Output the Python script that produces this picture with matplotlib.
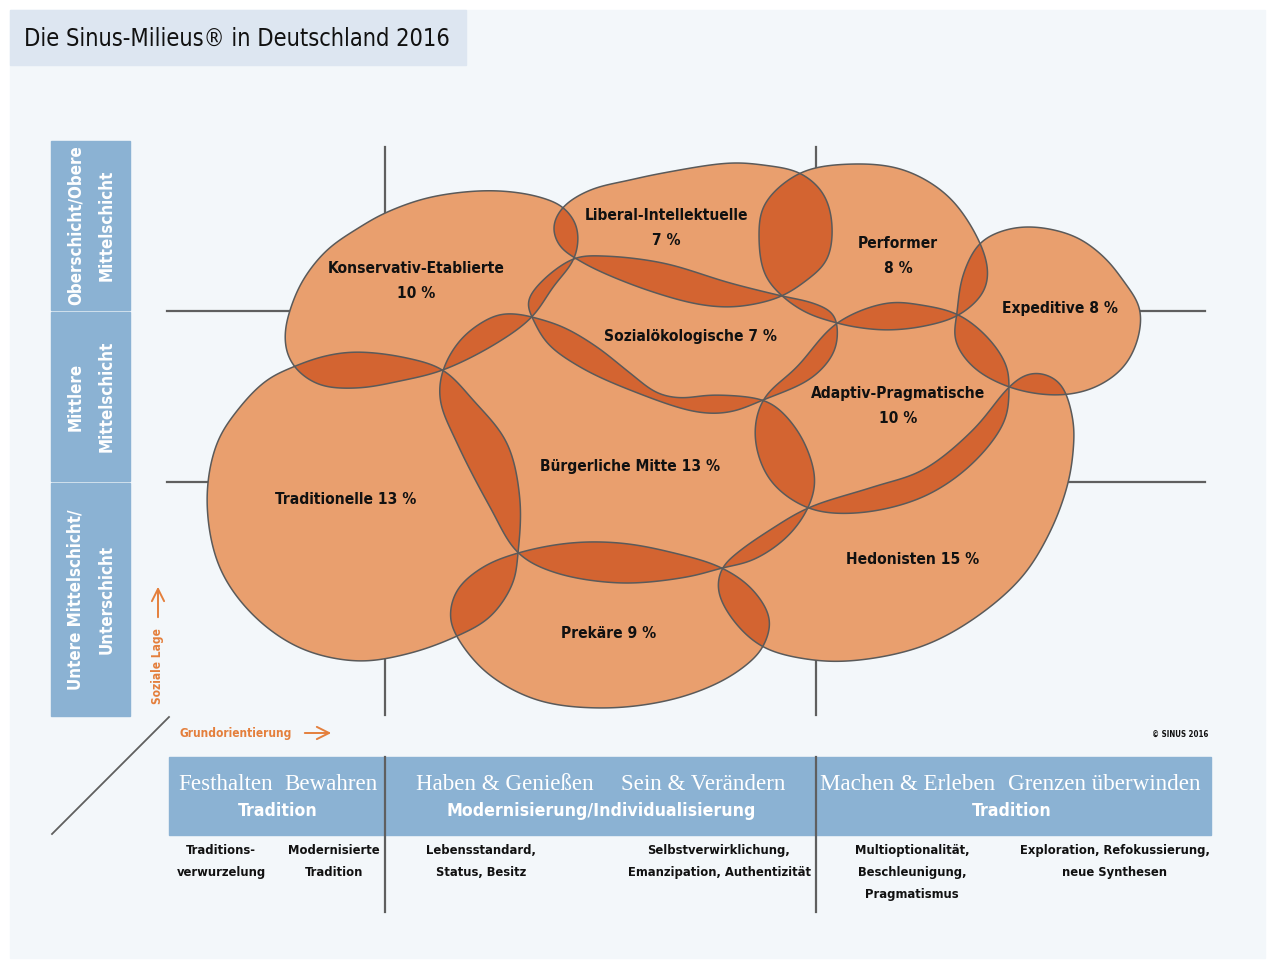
import os
import numpy as np
import matplotlib
matplotlib.use("Agg")
import matplotlib.pyplot as plt
from matplotlib import font_manager as fm
from matplotlib.patches import Polygon, Rectangle

# Milieus: name, share (%), label layout
milieus = ['Konservativ-Etablierte', 'Liberal-Intellektuelle', 'Performer', 'Expeditive',
           'Sozialökologische', 'Adaptiv-Pragmatische', 'Bürgerliche Mitte', 'Traditionelle',
           'Hedonisten', 'Prekäre']
shares = [10, 7, 8, 8, 7, 10, 13, 13, 15, 9]
two_line = [True, True, True, False, False, True, False, False, False, False]
label_pos = [(416, 281), (666, 228), (898, 256), (1060, 308), (691, 336),
             (898, 406), (630, 467), (346, 500), (913, 559), (609, 633)]

# outlines of the milieus on the map (x = Grundorientierung, y = soziale Lage, image units)
konservativ = [(290, 310), (303, 280), (327, 250), (360, 227), (385, 213), (427, 198), (477, 191),
               (513, 192), (543, 198), (563, 207), (577, 227), (575, 257), (553, 287), (532, 317),
               (497, 343), (443, 370), (400, 381), (358, 388), (320, 385), (297, 370), (287, 353),
               (285, 333)]
liberal = [(563, 207), (590, 190), (630, 180), (663, 173), (730, 163), (763, 165), (800, 173),
           (823, 193), (832, 223), (827, 260), (803, 283), (782, 296), (760, 303), (730, 307),
           (697, 304), (647, 290), (597, 270), (575, 258), (560, 247), (553, 227)]
performer = [(759, 240), (764, 205), (800, 173), (852, 164), (904, 170), (949, 197), (980, 243),
             (988, 273), (983, 293), (959, 315), (925, 326), (887, 330), (855, 327), (837, 323),
             (807, 313), (782, 296), (765, 275)]
expeditive = [(980, 243), (1005, 230), (1035, 227), (1076, 237), (1105, 258), (1125, 283),
              (1138, 303), (1141, 317), (1137, 342), (1126, 364), (1110, 379), (1085, 391),
              (1052, 395), (1009, 387), (973, 367), (955, 340), (957, 313), (963, 275)]
sozialoeko = [(575, 258), (603, 256), (663, 263), (730, 283), (782, 296), (813, 303), (833, 313),
              (837, 323), (835, 350), (813, 377), (763, 400), (730, 412), (697, 412), (630, 390),
              (580, 367), (547, 343), (532, 317), (527, 303), (540, 283)]
adaptiv = [(837, 323), (887, 303), (921, 305), (959, 315), (990, 340), (1007, 367), (1009, 387),
           (1005, 420), (973, 463), (923, 497), (857, 513), (808, 508), (770, 480), (755, 437),
           (763, 400), (797, 367)]
buergerlich = [(443, 370), (463, 337), (497, 315), (517, 314), (532, 317), (563, 327), (597, 347),
               (630, 373), (657, 393), (680, 398), (713, 395), (763, 400), (780, 410), (803, 440),
               (815, 480), (808, 508), (787, 537), (753, 560), (722, 568), (687, 577), (620, 583),
               (553, 572), (518, 553), (490, 507), (457, 443), (440, 400)]
traditionell = [(293, 367), (325, 356), (357, 352), (407, 358), (443, 370), (473, 400), (507, 443),
                (520, 500), (518, 553), (513, 583), (490, 617), (455, 637), (407, 654), (357, 661),
                (300, 648), (252, 614), (219, 566), (207, 500), (217, 443), (240, 407), (267, 380)]
hedonisten = [(808, 508), (873, 487), (923, 470), (973, 430), (1009, 387), (1025, 375), (1040, 373),
              (1060, 383), (1073, 420), (1073, 453), (1067, 487), (1050, 532), (1022, 577),
              (975, 618), (923, 646), (860, 660), (813, 660), (763, 647), (733, 620), (718, 590),
              (722, 568), (737, 553), (770, 530)]
prekaer = [(518, 553), (570, 543), (620, 543), (670, 552), (722, 568), (753, 590), (770, 620),
           (763, 647), (750, 662), (720, 682), (670, 700), (603, 708), (537, 700), (487, 673),
           (457, 637), (450, 617), (457, 590), (483, 567)]
outlines = [konservativ, liberal, performer, expeditive, sozialoeko, adaptiv, buergerlich,
            traditionell, hedonisten, prekaer]

# axis labels
schichten = ['Oberschicht/Obere\nMittelschicht', 'Mittlere\nMittelschicht',
             'Untere Mittelschicht/\nUnterschicht']
werte = ['Festhalten', 'Bewahren', 'Haben & Genießen', 'Sein & Verändern',
         'Machen & Erleben', 'Grenzen überwinden']
achsen = ['Tradition', 'Modernisierung/Individualisierung', 'Tradition']
beschreibung = ['Traditions-\nverwurzelung', 'Modernisierte\nTradition', 'Lebensstandard,\nStatus, Besitz',
                'Selbstverwirklichung,\nEmanzipation, Authentizität',
                'Multioptionalität,\nBeschleunigung,\nPragmatismus',
                'Exploration, Refokussierung,\nneue Synthesen']

LIGHT = '#E99F6E'
DARK = '#D36431'
EDGE = '#5A5A5A'
BLUE = '#8BB2D3'
ORANGE = '#E47F3C'
INK = '#111111'

# pick a condensed face if one is installed
files = {os.path.splitext(os.path.basename(f.fname))[0]: f.fname for f in fm.fontManager.ttflist}


def pick(stems, family, weight):
    for s in stems:
        if s in files:
            return fm.FontProperties(fname=files[s])
    return fm.FontProperties(family=family, weight=weight)


BOLD = pick(['NotoSans-ExtraCondensedBold', 'NotoSans-ExtraCondensedSemiBold', 'NotoSans-CondensedBold',
             'LiberationSansNarrow-Bold', 'DejaVuSansCondensed-Bold', 'RobotoCondensed-Bold'],
            ['Liberation Sans', 'DejaVu Sans'], 'bold')
REG = pick(['NotoSans-ExtraCondensedMedium', 'NotoSans-ExtraCondensed', 'NotoSans-CondensedMedium',
            'NotoSans-Condensed', 'LiberationSansNarrow-Regular', 'DejaVuSansCondensed',
            'RobotoCondensed-Regular'],
           ['Liberation Sans', 'DejaVu Sans'], 'normal')
SERIF = fm.FontProperties(family=['Liberation Serif', 'DejaVu Serif'])


def smooth(pts, sigma=7.0, n=30):
    # closed centripetal Catmull-Rom spline, then a light gaussian smoothing along the curve
    P = np.array(pts, float)
    N = len(P)
    seg = []
    for i in range(N):
        p0, p1, p2, p3 = P[(i - 1) % N], P[i], P[(i + 1) % N], P[(i + 2) % N]
        t0 = 0.0
        t1 = t0 + np.linalg.norm(p1 - p0) ** 0.5
        t2 = t1 + np.linalg.norm(p2 - p1) ** 0.5
        t3 = t2 + np.linalg.norm(p3 - p2) ** 0.5
        t = np.linspace(t1, t2, n, endpoint=False)[:, None]
        a1 = (t1 - t) / (t1 - t0) * p0 + (t - t0) / (t1 - t0) * p1
        a2 = (t2 - t) / (t2 - t1) * p1 + (t - t1) / (t2 - t1) * p2
        a3 = (t3 - t) / (t3 - t2) * p2 + (t - t2) / (t3 - t2) * p3
        b1 = (t2 - t) / (t2 - t0) * a1 + (t - t0) / (t2 - t0) * a2
        b2 = (t3 - t) / (t3 - t1) * a2 + (t - t1) / (t3 - t1) * a3
        seg.append((t2 - t) / (t2 - t1) * b1 + (t - t1) / (t2 - t1) * b2)
    c = np.vstack(seg)
    closed = np.vstack([c, c[:1]])
    d = np.r_[0, np.cumsum(np.hypot(*np.diff(closed, axis=0).T))]
    s = np.arange(0, d[-1], 1.0)
    x = np.interp(s, d, closed[:, 0])
    y = np.interp(s, d, closed[:, 1])
    g = np.exp(-0.5 * (2 * np.pi * np.fft.fftfreq(len(s)) * sigma) ** 2)
    x = np.real(np.fft.ifft(np.fft.fft(x) * g))
    y = np.real(np.fft.ifft(np.fft.fft(y) * g))
    return np.column_stack([x, y])


fig = plt.figure(figsize=(12.7, 9.63), dpi=100, facecolor='white')
ax = fig.add_axes([0, 0, 1, 1])
ax.set_xlim(0, 1270)
ax.set_ylim(963, 0)
ax.axis('off')
renderer = fig.canvas.get_renderer()


def fit(s, fp, target, cap):
    # font size that makes the string about `target` pixels wide
    f = fp.copy()
    f.set_size(10)
    t = ax.text(0, 0, s, fontproperties=f)
    w = t.get_window_extent(renderer).width
    t.remove()
    return min(cap, 10 * target / w)


def put(x, y, s, fp, size, **kw):
    f = fp.copy()
    f.set_size(size)
    return ax.text(x, y, s, fontproperties=f, **kw)


def spacing(px, size):
    return px / (0.9 * size * 100 / 72)


# background panel and title
ax.add_patch(Rectangle((10, 10), 1255, 948, color='#F3F7FA', zorder=0))
ax.add_patch(Rectangle((10, 10), 456, 55, color='#DDE6F1', zorder=1))
ts = fit('Die Sinus-Milieus® in Deutschland 2016', REG, 428, 22)
put(24, 39, 'Die Sinus-Milieus® in Deutschland 2016', REG, ts, va='center', ha='left',
    color=INK, zorder=2)

# social class boxes on the left
box_y = [(141, 310), (312, 481), (483, 716)]
bs = fit('Untere Mittelschicht/', BOLD, 180, 15)
for (y0, y1), lab in zip(box_y, schichten):
    ax.add_patch(Rectangle((51, y0), 79, y1 - y0, color=BLUE, zorder=1))
    put(91, (y0 + y1) / 2, lab, BOLD, bs, rotation=90, color='white', ha='center', va='center',
        linespacing=spacing(29, bs), multialignment='center', zorder=2)

# grid of the map
gcol = '#5F5F5F'
for y in [311, 482]:
    ax.plot([167, 1205], [y, y], color=gcol, lw=1.6, zorder=1)
for x in [385, 816]:
    ax.plot([x, x], [147, 715], color=gcol, lw=1.6, zorder=1)
ax.plot([52, 169], [834, 717], color=gcol, lw=1.3, zorder=1)

# milieus: fill, overlaps, outlines
shapes = [smooth(o) for o in outlines]
for s in shapes:
    ax.add_patch(Polygon(s, closed=True, facecolor=LIGHT, edgecolor='none', zorder=2))
for i in range(len(shapes)):
    for j in range(i + 1, len(shapes)):
        lens = Polygon(shapes[i], closed=True, facecolor=DARK, edgecolor='none', zorder=3)
        ax.add_patch(lens)
        lens.set_clip_path(Polygon(shapes[j], closed=True, transform=ax.transData))
for s in shapes:
    ax.add_patch(Polygon(s, closed=True, facecolor='none', edgecolor=EDGE, lw=1.1, zorder=4))

ls = fit('Konservativ-Etablierte', BOLD, 176, 15)
for name, share, two, (x, y) in zip(milieus, shares, two_line, label_pos):
    lab = f'{name}\n{share} %' if two else f'{name} {share} %'
    put(x, y, lab, BOLD, ls, ha='center', va='center', linespacing=spacing(25, ls),
        color=INK, zorder=5)

# axis captions
os_ = fit('Grundorientierung', BOLD, 112, 12)
put(158, 666, 'Soziale Lage', BOLD, os_, rotation=90, color=ORANGE, ha='center', va='center')
ax.annotate('', xy=(158, 584), xytext=(158, 620),
            arrowprops=dict(arrowstyle='->', color=ORANGE, lw=1.4, mutation_scale=22))
put(179, 733, 'Grundorientierung', BOLD, os_, color=ORANGE, ha='left', va='center')
ax.annotate('', xy=(334, 733), xytext=(302, 733),
            arrowprops=dict(arrowstyle='->', color=ORANGE, lw=1.4, mutation_scale=22))
cs = fit('© SINUS 2016', BOLD, 56, 8)
put(1208, 734, '© SINUS 2016', BOLD, cs, color=INK, ha='right', va='center')

# orientation band at the bottom
ax.add_patch(Rectangle((169, 757), 1042, 78, color=BLUE, zorder=1))
for x in [385, 816]:
    ax.plot([x, x], [757, 912], color=gcol, lw=1.6, zorder=2)
ss = fit('Grenzen überwinden', SERIF, 192, 17)
werte_x = [226, 331, 505, 703, 908, 1104]
for x, w in zip(werte_x, werte):
    put(x, 784, w, SERIF, ss, color='white', ha='center', va='center', zorder=2)
As = fit('Modernisierung/Individualisierung', BOLD, 305, 16)
for x, a in zip([278, 601, 1012], achsen):
    put(x, 811, a, BOLD, As, color='white', ha='center', va='center', zorder=2)
ds = fit('Exploration, Refokussierung,', BOLD, 188, 12.5)
besch_x = [221, 334, 481, 719, 912, 1115]
for x, b in zip(besch_x, beschreibung):
    put(x, 844, b, BOLD, ds, color=INK, ha='center', va='top', linespacing=spacing(22, ds),
        zorder=2)

fig.savefig('out.png', dpi=100, facecolor='white')
